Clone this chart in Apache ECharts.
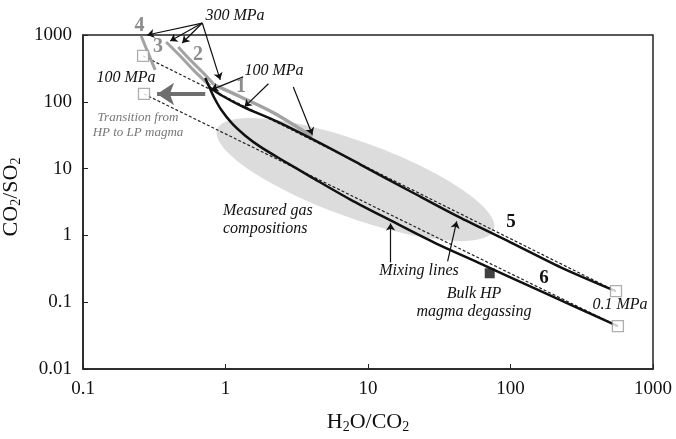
<!DOCTYPE html>
<html>
<head>
<meta charset="utf-8">
<script src="https://cdn.jsdelivr.net/npm/echarts@6.0.0/dist/echarts.min.js"></script>
<style>
  html, body { margin: 0; padding: 0; background: #fff; }
  #chart { width: 676px; height: 439px; }
</style>
</head>
<body>
<div id="chart"></div>
<script>
const xTickLabels = ['0.1', '1', '10', '100', '1000'];
const yTickLabels = ['0.01', '0.1', '1', '10', '100', '1000'];

// degassing paths, [H2O/CO2, CO2/SO2]
const curve1 = [[0.834, 179], [1.27, 119], [2.17, 68.5], [4.07, 30.1]];
const curve2 = [[0.466, 662], [0.565, 424], [0.698, 271], [0.834, 179]];
const curve3 = [[0.383, 787], [0.481, 486], [0.613, 281], [0.782, 173]];
const curve4 = [[0.256, 966], [0.277, 640], [0.296, 454], [0.321, 301]];
const curve5 = [[0.769, 167], [0.949, 123], [1.33, 84], [2.31, 50.3], [4.14, 27.1], [8.85, 11.5],
  [19.9, 4.54], [42.6, 1.92], [100, 0.787], [225, 0.333], [550, 0.146]];
const curve6 = [[0.721, 228], [0.769, 167], [0.834, 115], [0.933, 76], [1.115, 47], [1.377, 31.1],
  [1.75, 21.3], [2.55, 13.1], [3.94, 7.6], [7.53, 3.44], [14.4, 1.675], [29.9, 0.76],
  [58.9, 0.395], [163, 0.146], [567, 0.0438]];

// mixing lines
const mixUpper = [[0.264, 486], [550, 0.146]];
const mixLower = [[0.268, 131], [567, 0.0438]];

const endMembers = [[0.264, 486], [0.268, 131], [550, 0.146], [567, 0.0438]];
const bulkHP = [[71.5, 0.271]];

// measured gas field: centre, and two half axes in decades (log x, log y)
const gasCentre = [8.17, 6.86];
const gasAxisA = [0.971, -0.751];
const gasAxisB = [-0.0914, -0.533];

// annotation arrows [from, to]
const arrows = [
  [[0.687, 1510], [0.282, 1000]],
  [[0.687, 1510], [0.409, 813]],
  [[0.687, 1510], [0.497, 760]],
  [[0.687, 1510], [0.918, 213]],
  [[1.33, 236], [0.794, 151]],
  [[2.0, 186], [1.36, 84]],
  [[2.99, 167], [4.07, 32.1]],
  [[14.4, 0.395], [14.4, 1.51]],
  [[36.2, 0.409], [41.9, 1.62]]
];
const transitionArrow = [[0.721, 131], [0.331, 131]];

const serif = '"Liberation Serif", "Times New Roman", serif';

const chart = echarts.init(document.getElementById('chart'));

const lineSeries = (data, color, width, extra) => Object.assign({
  type: 'line',
  data: data,
  symbol: 'none',
  smooth: 0.3,
  lineStyle: { color: color, width: width },
  silent: true,
  z: 3
}, extra || {});

const text = (x, y, str, font, fill, extra) => ({
  type: 'text',
  x: x,
  y: y,
  z: 50,
  style: Object.assign({
    text: str,
    font: font,
    fill: fill || '#111',
    align: 'center',
    verticalAlign: 'middle'
  }, extra || {})
});

const italic = 'italic 16px ' + serif;
const numFont = 'bold 20px ' + serif;

const option = {
  animation: false,
  grid: {
    left: 83, right: 23, top: 35, bottom: 70,
    show: true, borderColor: '#222', borderWidth: 1.5,
    outerBoundsMode: 'none'
  },
  xAxis: {
    type: 'log', logBase: 10, min: 0.1, max: 1000, splitNumber: 4,
    name: '{n|H}{s|2}{n|O/CO}{s|2}',
    nameLocation: 'middle', nameGap: 41,
    nameTextStyle: {
      color: '#111',
      rich: {
        n: { fontFamily: serif, fontSize: 22, lineHeight: 24, color: '#111' },
        s: { fontFamily: serif, fontSize: 14, lineHeight: 14, verticalAlign: 'bottom', color: '#111' }
      }
    },
    axisLine: { lineStyle: { color: '#222', width: 1.5 } },
    axisTick: { inside: true, length: 5, lineStyle: { color: '#222' } },
    axisLabel: {
      margin: 11, fontFamily: serif, fontSize: 19, color: '#111',
      showMinLabel: true, showMaxLabel: true,
      formatter: v => xTickLabels[Math.round(Math.log10(v)) + 1]
    },
    splitLine: { show: false },
    minorTick: { show: false }
  },
  yAxis: {
    type: 'log', logBase: 10, min: 0.01, max: 1000, splitNumber: 5,
    name: '{n|CO}{s|2}{n|/SO}{s|2}',
    nameLocation: 'middle', nameGap: 50,
    nameTextStyle: {
      color: '#111',
      padding: [0, 0, 0, 10],
      rich: {
        n: { fontFamily: serif, fontSize: 22, lineHeight: 24, color: '#111' },
        s: { fontFamily: serif, fontSize: 14, lineHeight: 14, verticalAlign: 'bottom', color: '#111' }
      }
    },
    axisLine: { lineStyle: { color: '#222', width: 1.5 } },
    axisTick: { inside: true, length: 5, lineStyle: { color: '#222' } },
    axisLabel: {
      margin: 11, fontFamily: serif, fontSize: 19, color: '#111',
      showMinLabel: true, showMaxLabel: true,
      formatter: v => yTickLabels[Math.round(Math.log10(v)) + 2]
    },
    splitLine: { show: false },
    minorTick: { show: false }
  },
  series: [
    {
      type: 'custom',
      data: [gasCentre],
      silent: true,
      z: 1,
      renderItem: (params, api) => {
        const lx = Math.log10(api.value(0));
        const ly = Math.log10(api.value(1));
        const points = [];
        for (let i = 0; i < 90; i++) {
          const t = (i / 90) * Math.PI * 2;
          const px = lx + gasAxisA[0] * Math.cos(t) + gasAxisB[0] * Math.sin(t);
          const py = ly + gasAxisA[1] * Math.cos(t) + gasAxisB[1] * Math.sin(t);
          points.push(api.coord([Math.pow(10, px), Math.pow(10, py)]));
        }
        return { type: 'polygon', shape: { points: points }, style: { fill: '#dcdcdc' } };
      }
    },
    lineSeries(mixUpper, '#222', 1.2, { smooth: false, z: 2, lineStyle: { color: '#222', width: 1.2, type: [3, 2] } }),
    lineSeries(mixLower, '#222', 1.2, { smooth: false, z: 2, lineStyle: { color: '#222', width: 1.2, type: [3, 2] } }),
    lineSeries(curve4, '#a3a3a3', 3),
    lineSeries(curve3, '#a3a3a3', 3),
    lineSeries(curve2, '#a3a3a3', 3),
    lineSeries(curve1, '#a3a3a3', 3.5),
    lineSeries(curve5, '#111', 2.5, { z: 4 }),
    lineSeries(curve6, '#111', 2.5, { z: 4 }),
    {
      type: 'lines',
      coordinateSystem: 'cartesian2d',
      clip: false,
      silent: true,
      z: 6,
      symbol: ['none', 'arrow'],
      symbolSize: 7,
      lineStyle: { color: '#111', width: 1.2, opacity: 1 },
      data: arrows.map(a => ({ coords: a }))
    },
    {
      type: 'lines',
      coordinateSystem: 'cartesian2d',
      clip: false,
      silent: true,
      z: 6,
      symbol: ['none', 'arrow'],
      symbolSize: 17,
      lineStyle: { color: '#6e6e6e', width: 4, opacity: 1 },
      data: [{ coords: transitionArrow }]
    },
    {
      type: 'scatter',
      data: endMembers,
      symbol: 'rect',
      symbolSize: 11,
      silent: true,
      z: 7,
      itemStyle: { color: '#fff', borderColor: '#9a9a9a', borderWidth: 1.3 }
    },
    {
      type: 'scatter',
      data: bulkHP,
      symbol: 'rect',
      symbolSize: 10,
      silent: true,
      z: 7,
      itemStyle: { color: '#111' }
    }
  ],
  graphic: [
    text(235, 16, '300 MPa', italic),
    text(126, 78, '100 MPa', italic),
    text(274, 71, '100 MPa', italic),
    text(138, 125, 'Transition from\nHP to LP magma', 'italic 13px ' + serif, '#777', { lineHeight: 15 }),
    text(223, 220, 'Measured gas\ncompositions', italic, '#111', { align: 'left', lineHeight: 18 }),
    text(419, 271, 'Mixing lines', italic),
    text(474, 303, 'Bulk HP\nmagma degassing', italic, '#111', { lineHeight: 18 }),
    text(620, 305, '0.1 MPa', italic),
    text(241, 87, '1', numFont, '#8c8c8c'),
    text(198, 55, '2', numFont, '#8c8c8c'),
    text(158, 47, '3', numFont, '#8c8c8c'),
    text(139.5, 26, '4', numFont, '#8c8c8c'),
    text(511, 222, '5', 'bold 19px ' + serif),
    text(544, 278, '6', 'bold 19px ' + serif)
  ]
};

chart.setOption(option);
</script>
</body>
</html>
